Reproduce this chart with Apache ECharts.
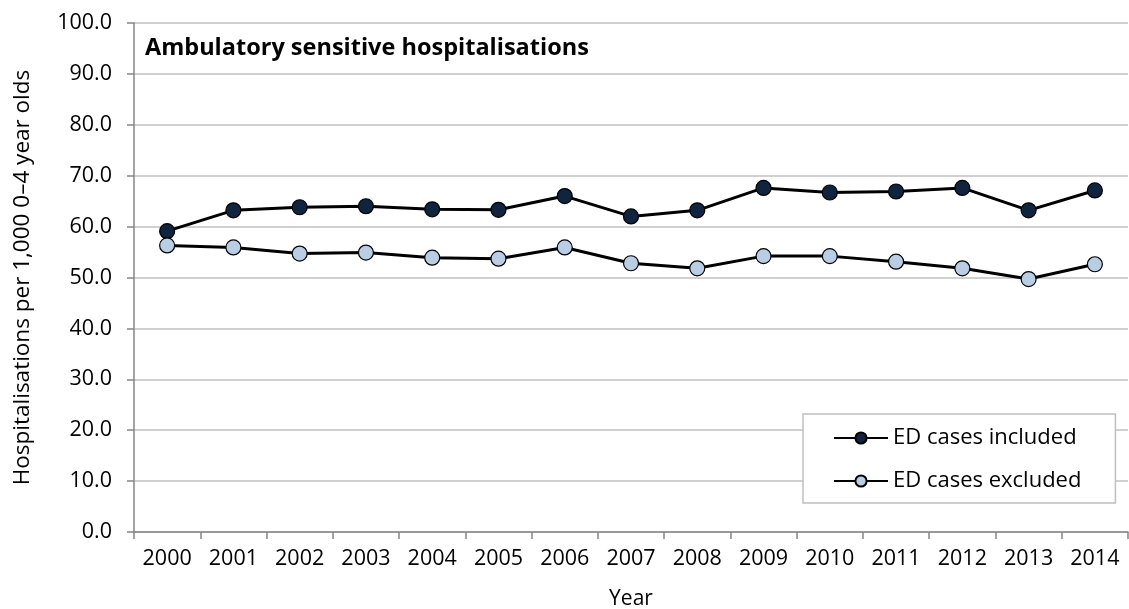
<!DOCTYPE html>
<html>
<head>
<meta charset="utf-8">
<script src="https://cdn.jsdelivr.net/npm/echarts@6/dist/echarts.min.js"></script>
<style>
  html, body { margin: 0; padding: 0; background: #fff; }
  #chart { width: 1129px; height: 609px; }
</style>
</head>
<body>
<div id="chart"></div>
<script>
const years = ['2000', '2001', '2002', '2003', '2004', '2005', '2006', '2007',
  '2008', '2009', '2010', '2011', '2012', '2013', '2014']
const edIncluded = [59.1, 63.2, 63.8, 64.0, 63.4, 63.3, 66.0, 62.0, 63.2, 67.6, 66.7, 66.9, 67.6, 63.2, 67.1]
const edExcluded = [56.3, 55.9, 54.7, 54.9, 53.9, 53.7, 55.9, 52.8, 51.8, 54.2, 54.2, 53.1, 51.8, 49.7, 52.6]

const font = 'Open Sans'

const chart = echarts.init(document.getElementById('chart'))
chart.setOption({
  animation: false,
  title: {
    text: 'Ambulatory sensitive hospitalisations',
    left: 140,
    top: 31,
    textStyle: { fontFamily: font, fontSize: 23.5, fontWeight: 'bold', color: '#000' }
  },
  grid: { left: 134, right: 1, top: 23, bottom: 77, outerBoundsMode: 'none' },
  legend: {
    orient: 'vertical',
    left: 803,
    top: 414,
    padding: [13, 34, 11, 30],
    itemGap: 21,
    itemWidth: 54,
    itemHeight: 14,
    backgroundColor: '#fff',
    borderColor: '#bfbfbf',
    borderWidth: 1.5,
    textStyle: { fontFamily: font, fontSize: 22, color: '#000' },
    data: ['ED cases included', 'ED cases excluded']
  },
  xAxis: {
    type: 'category',
    data: years,
    name: 'Year',
    nameLocation: 'middle',
    nameGap: 57,
    nameTextStyle: { fontFamily: font, fontSize: 21, color: '#000' },
    axisLine: { lineStyle: { color: '#868686', width: 1.5 } },
    axisTick: { show: true, length: 7, lineStyle: { color: '#868686', width: 1.5 } },
    axisLabel: { fontFamily: font, fontSize: 21.5, color: '#000', margin: 16 }
  },
  yAxis: {
    type: 'value',
    min: 0,
    max: 100,
    interval: 10,
    name: 'Hospitalisations per 1,000 0\u20134 year olds',
    nameLocation: 'middle',
    nameGap: 100,
    nameTextStyle: { fontFamily: font, fontSize: 22.5, color: '#000' },
    axisLine: { show: true, lineStyle: { color: '#868686', width: 1.5 } },
    axisTick: { show: true, length: 7, lineStyle: { color: '#868686', width: 1.5 } },
    axisLabel: {
      fontFamily: font, fontSize: 21.5, color: '#000', margin: 22,
      formatter: v => v.toFixed(1)
    },
    splitLine: { lineStyle: { color: '#c0c0c0', width: 1.5 } }
  },
  series: [
    {
      name: 'ED cases included',
      type: 'line',
      data: edIncluded,
      symbol: 'circle',
      symbolSize: 15,
      lineStyle: { color: '#000', width: 3 },
      itemStyle: { color: '#10243f', borderColor: '#000', borderWidth: 1.2 }
    },
    {
      name: 'ED cases excluded',
      type: 'line',
      data: edExcluded,
      symbol: 'circle',
      symbolSize: 15,
      lineStyle: { color: '#000', width: 3 },
      itemStyle: { color: '#b9cde5', borderColor: '#000', borderWidth: 1.2 }
    }
  ]
})
</script>
</body>
</html>
